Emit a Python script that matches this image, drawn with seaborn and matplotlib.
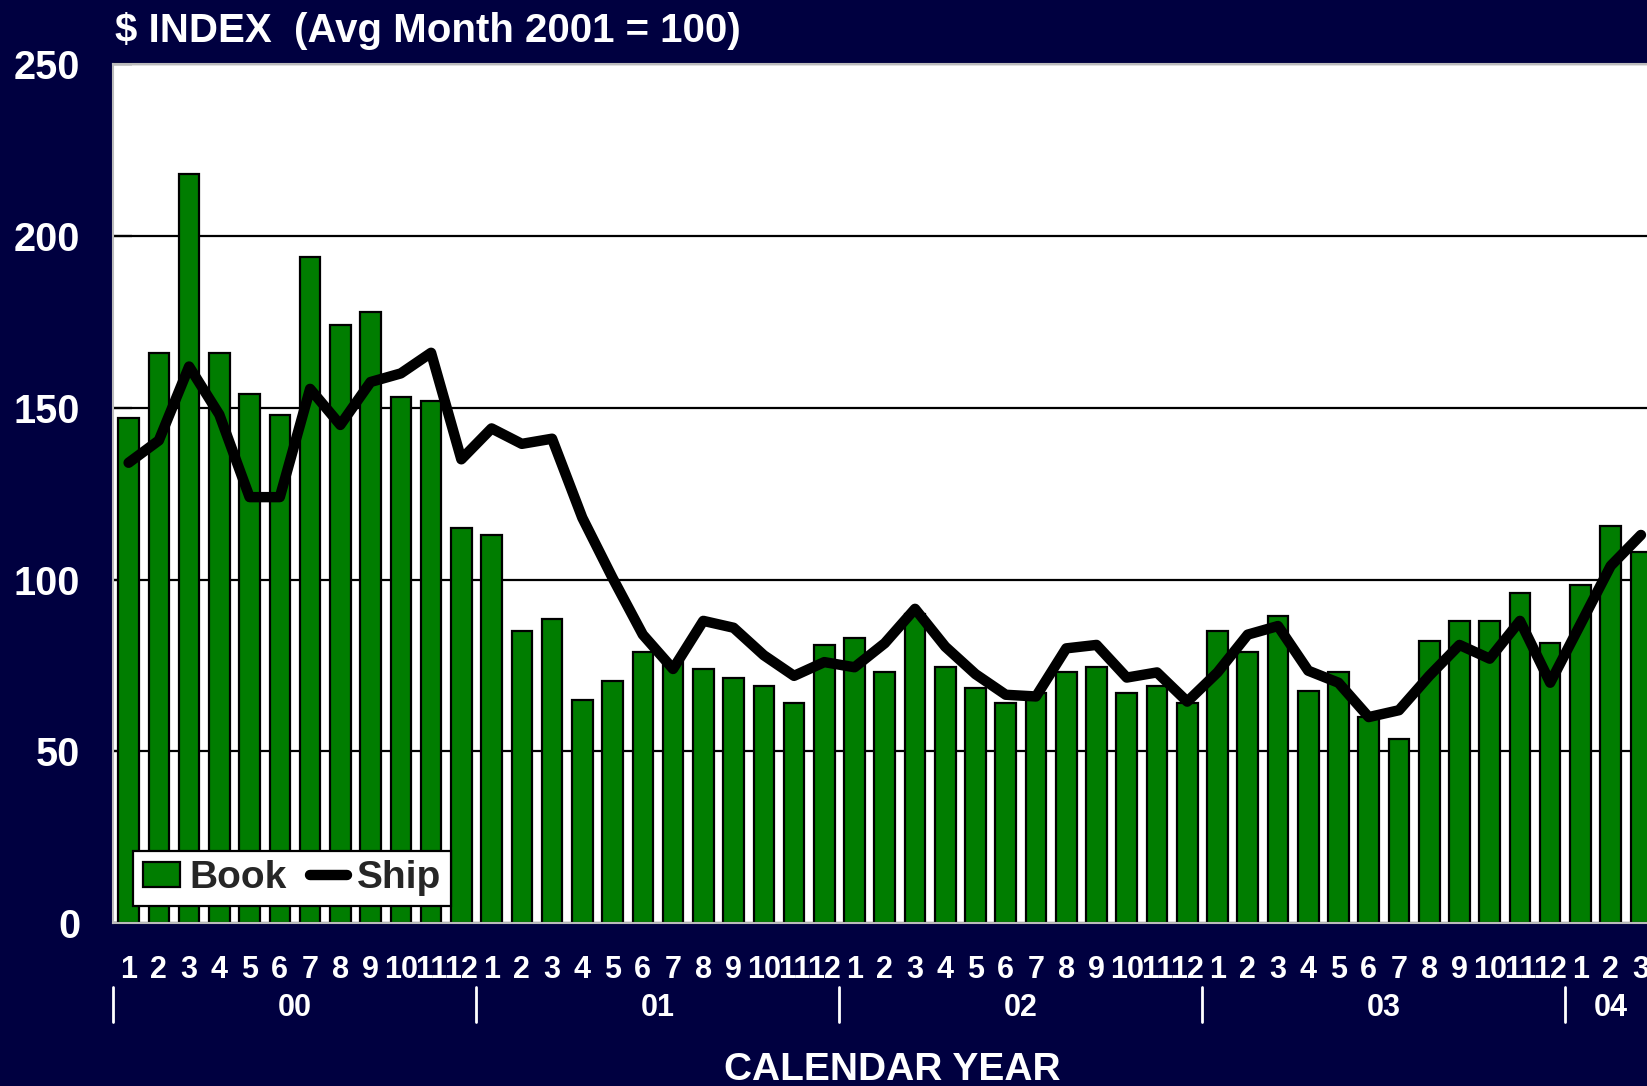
import matplotlib
matplotlib.use("Agg")
import matplotlib.pyplot as plt
import matplotlib.transforms as mtransforms
from matplotlib.patches import Patch
from matplotlib.lines import Line2D
import numpy as np
import pandas as pd
import seaborn as sns

# Monthly bookings and shipments index (average month of 2001 = 100)
years = ["00", "01", "02", "03", "04"]
months_per_year = [12, 12, 12, 12, 3]

book = [147, 166, 218, 166, 154, 148, 194, 174, 178, 153, 152, 115,
        113, 85, 88.5, 65, 70.5, 79, 76, 74, 71.5, 69, 64, 81,
        83, 73, 90, 74.5, 68.5, 64, 67, 73, 74.5, 67, 69, 64,
        85, 79, 89.5, 67.5, 73, 60, 53.5, 82, 88, 88, 96, 81.5,
        98.5, 115.5, 108]
ship = [134, 140.5, 162, 148, 124, 124, 155.5, 145, 157.5, 160, 166, 135,
        144, 139.5, 141, 118, 100.5, 84, 74, 88, 86, 78, 72, 76,
        74.5, 81.5, 91.5, 80.5, 72.5, 66.5, 66, 80, 81, 71.5, 73, 64.5,
        73, 84, 86.5, 73.5, 70, 60, 62, 72, 81, 77, 88, 70,
        87, 104, 113]
yticks = [0, 50, 100, 150, 200, 250]

month_labels = [str(m) for n in months_per_year for m in range(1, n + 1)]

NAVY = "#000040"
GREEN = "#007D00"

sns.set_theme(style="white")
plt.rcParams["font.family"] = ["Liberation Sans", "DejaVu Sans"]
plt.rcParams["font.weight"] = "bold"

fig = plt.figure(figsize=(16.47, 10.86), dpi=100, facecolor=NAVY)
ax = fig.add_axes([0.0689, 0.1498, 0.9311, 0.7912])
ax.set_facecolor("white")

df = pd.DataFrame({"pos": np.arange(len(book)), "book": book, "ship": ship})

sns.barplot(data=df, x="pos", y="book", color=GREEN, saturation=1,
            width=0.68, edgecolor="black", linewidth=1.6, errorbar=None,
            ax=ax, zorder=2)
sns.lineplot(data=df, x="pos", y="ship", color="black", linewidth=7.5,
             ax=ax, zorder=3)

ax.set_axisbelow(True)
ax.yaxis.grid(True, color="black", linewidth=1.6)
ax.xaxis.grid(False)

ax.set_xlim(-0.5, 50.2)
ax.set_ylim(0, 250)
ax.set_yticks(yticks)
ax.set_yticklabels([str(v) for v in yticks])
ax.set_xticks(range(len(month_labels)))
ax.set_xticklabels(month_labels)
ax.set_xlabel("")
ax.set_ylabel("")

ax.tick_params(axis="x", bottom=True, direction="in", length=16.5, width=1.6,
               color="black", labelcolor="white", labelsize=22, pad=22.5)
ax.tick_params(axis="y", left=True, direction="in", length=14, width=1.6,
               color="black", labelcolor="white", labelsize=28.5, pad=24)
for lab in ax.get_xticklabels() + ax.get_yticklabels():
    lab.set_fontweight("bold")

for side in ["top", "bottom", "left"]:
    ax.spines[side].set_color("#BBBBBB")
    ax.spines[side].set_linewidth(1.5)
ax.spines["right"].set_visible(False)

# Year groups under the month labels
trans = mtransforms.blended_transform_factory(ax.transData, ax.transAxes)
start = 0
for yr, n in zip(years, months_per_year):
    ax.plot([start - 0.5, start - 0.5], [-0.074, -0.115], transform=trans,
            color="white", linewidth=2, clip_on=False)
    ax.text(start + (n - 1) / 2, -0.099, yr, transform=trans, ha="center",
            va="center", color="white", fontsize=22, fontweight="bold")
    start += n

handles = [Patch(facecolor=GREEN, edgecolor="black", linewidth=1.6),
           Line2D([], [], color="black", linewidth=7.5)]
leg = ax.legend(handles, ["Book", "Ship"], ncol=2, loc="lower left",
                bbox_to_anchor=(0.0128, 0.02), borderaxespad=0,
                frameon=True, fancybox=False, framealpha=1,
                edgecolor="black", handlelength=0.95, handleheight=0.6,
                handletextpad=0.25, columnspacing=0.6, borderpad=0.25,
                prop={"size": 28, "weight": "bold"})
leg.get_frame().set_linewidth(1.6)
leg.set_zorder(5)

fig.text(0.0701, 0.971, r"\$ INDEX  (Avg Month 2001 = 100)", color="white",
         fontsize=29, fontweight="bold", ha="left", va="center")
fig.text(0.542, 0.0147, "CALENDAR YEAR", color="white", fontsize=28,
         fontweight="bold", ha="center", va="center")

fig.savefig("out.png", dpi=100, facecolor=NAVY)
